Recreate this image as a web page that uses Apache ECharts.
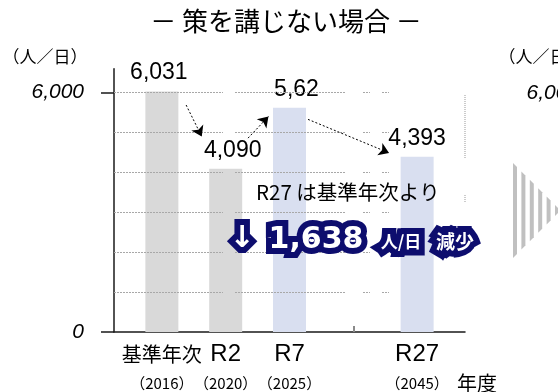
<!DOCTYPE html>
<html>
<head>
<meta charset="utf-8">
<script src="https://cdn.jsdelivr.net/npm/echarts@6/dist/echarts.min.js"></script>
<style>
  html, body { margin: 0; padding: 0; background: #fff; }
  #chart { width: 558px; height: 392px; }
</style>
</head>
<body>
<div id="chart"></div>
<script>
// Daily visitors (人/日) by fiscal year, without countermeasures
const categories = ['基準年次', 'R2', 'R7', '', 'R27'];
const fiscalYears = ['2016', '2020', '2025', '', '2045'];
const population = [6031, 4090, 5620, null, 4393];
const valueLabels = ['6,031', '4,090', '5,62', '', '4,393'];
const yLabelValues = [0, 6000];
const yMax = 6600;
const gridStep = 1000;
const reductionValue = '1,638';

const LATIN = "'Liberation Sans', 'Noto Sans CJK JP', sans-serif";
const JP = "'Noto Sans CJK JP', sans-serif";
const GRAY = '#d9d9d9';
const BLUE = '#d9dff0';
const NAVY = '#0d0d6e';

// plot area
const PLOT = { left: 114, right: 93, top: 68.7, bottom: 59.3 };
// pieces of the dotted guide lines
const GUIDE_SEGMENTS = [[114, 223], [235, 346], [363, 370], [382, 389]];
// small nudges of value labels
const LABEL_NUDGE = [[-3, 0], [7, 0], [7, 0], [0, 0], [0, 0]];

const chart = echarts.init(document.getElementById('chart'));

const isLatin = s => /^[A-Za-z0-9]+$/.test(s);
const labelled = categories.map((c, i) => i).filter(i => categories[i] !== '');

const grids = [Object.assign({}, PLOT)];
const xAxes = [{
  type: 'value', gridIndex: 0, min: -0.75, max: 4.75, position: 'bottom',
  axisLine: { show: true, onZero: false, lineStyle: { color: '#1a1a1a', width: 1.5 } },
  axisTick: {
    show: true, inside: true, length: 6, customValues: [0, 1, 2, 3, 4],
    lineStyle: { color: '#8a8a8a', width: 2 }
  },
  splitLine: { show: false },
  axisLabel: {
    show: true, margin: 12, hideOverlap: false,
    customValues: labelled,
    formatter: v => `{${isLatin(categories[v]) ? 'en' : 'jp'}|${categories[v]}}`,
    rich: {
      jp: { fontSize: 20, lineHeight: 20, color: '#000', fontFamily: JP },
      en: { fontSize: 24, lineHeight: 20, color: '#000', fontFamily: LATIN }
    }
  }
}, {
  // fiscal year line under the category names
  type: 'value', gridIndex: 0, min: -0.75, max: 4.75, position: 'bottom', offset: 0,
  axisLine: { show: false, onZero: false }, axisTick: { show: false }, splitLine: { show: false },
  axisLabel: {
    show: true, margin: 42, hideOverlap: false,
    customValues: labelled,
    formatter: v => `（${fiscalYears[v]}）`,
    fontSize: 15, lineHeight: 18, color: '#000', fontFamily: JP
  }
}];
const yAxes = [{
  type: 'value', gridIndex: 0, min: 0, max: yMax,
  axisLine: { show: true, onZero: false, lineStyle: { color: '#1a1a1a', width: 1.5 } },
  axisTick: {
    show: true, length: 13, customValues: yLabelValues,
    lineStyle: { color: '#1a1a1a', width: 1.5 }
  },
  splitLine: { show: false },
  axisLabel: {
    show: true, margin: 30, customValues: yLabelValues,
    formatter: v => v.toLocaleString('en-US'),
    fontSize: 21, fontStyle: 'italic', color: '#000', fontFamily: LATIN
  }
}];

GUIDE_SEGMENTS.forEach(([a, b]) => {
  const gi = grids.length;
  grids.push({ left: a, width: b - a, top: PLOT.top, bottom: PLOT.bottom });
  xAxes.push({ type: 'value', gridIndex: gi, min: 0, max: 1, show: false });
  yAxes.push({
    type: 'value', gridIndex: gi, min: 0, max: yMax, interval: gridStep, z: 5,
    axisLine: { show: false }, axisTick: { show: false }, axisLabel: { show: false },
    splitLine: {
      show: true, showMinLine: false, showMaxLine: false,
      lineStyle: { color: '#a8a8a8', width: 1, type: [2, 1] }
    }
  });
});

const barData = [];
population.forEach((v, i) => {
  if (v == null) return;
  barData.push({
    value: [i, v],
    itemStyle: { color: i < 2 ? GRAY : BLUE },
    label: { offset: LABEL_NUDGE[i] }
  });
});

// dotted trend arrows between the labelled values (data space)
const trendArrows = [
  [[0.38, 5690], [0.625, 4900]],
  [[1.35, 4860], [1.67, 5400]],
  [[2.29, 5330], [3.56, 4490]]
];

const text = (x, y, str, o) => ({
  type: 'text', x, y, silent: true, z: 20,
  style: Object.assign({
    text: str, fill: '#000', align: 'left', verticalAlign: 'middle',
    fontFamily: JP, fontSize: 16
  }, o)
});

const DEJAVU_BOLD = { fontFamily: "'DejaVu Sans', sans-serif", fontWeight: 'bold' };
const badgeParts = [
  { x: 242, y: 239, str: '↓', font: Object.assign({ fontSize: 30 }, DEJAVU_BOLD) },
  { x: 316, y: 240, str: reductionValue, font: Object.assign({ fontSize: 30 }, DEJAVU_BOLD) },
  { x: 401, y: 242, str: '人/日', font: { fontFamily: JP, fontSize: 17, fontWeight: 'bold' } },
  { x: 455, y: 242, str: '減少', font: { fontFamily: JP, fontSize: 19, fontWeight: 'bold' } }
];
const badge = [];
badgeParts.forEach(p => {
  badge.push({
    type: 'text', x: p.x, y: p.y, z: 30, silent: true,
    style: Object.assign({
      text: p.str, fill: NAVY, stroke: NAVY, lineWidth: 12, lineJoin: 'round',
      shadowBlur: 12, shadowColor: NAVY, align: 'center', verticalAlign: 'middle'
    }, p.font)
  });
});
badgeParts.forEach(p => {
  badge.push({
    type: 'text', x: p.x, y: p.y, z: 31, silent: true,
    style: Object.assign({ text: p.str, fill: '#fff', align: 'center', verticalAlign: 'middle' }, p.font)
  });
});

// striped arrow pointing to the next panel
const stripes = [];
for (let i = 0; i < 6; i++) {
  const x0 = 513 + 8.4 * i, x1 = x0 + 4;
  const h = x => Math.max(0, 47.5 - (x - 513));
  stripes.push({
    type: 'polygon', silent: true, z: 10,
    shape: { points: [[x0, 210.5 - h(x0)], [x1, 210.5 - h(x1)], [x1, 210.5 + h(x1)], [x0, 210.5 + h(x0)]] },
    style: { fill: '#c0c0c0' }
  });
}

const option = {
  animation: false,
  backgroundColor: '#fff',
  grid: grids,
  xAxis: xAxes,
  yAxis: yAxes,
  series: [{
    type: 'bar', xAxisIndex: 0, yAxisIndex: 0, barWidth: 33, z: 2,
    data: barData,
    label: {
      show: true, position: 'top', distance: 7,
      fontSize: 23, color: '#000', fontFamily: LATIN,
      formatter: p => valueLabels[p.value[0]]
    },
    markLine: {
      silent: true, z: 8,
      symbol: ['none', 'arrow'], symbolSize: 10,
      label: { show: false },
      lineStyle: { color: '#000', width: 1, type: [2, 2] },
      data: trendArrows.map(([s, e]) => [{ coord: s }, { coord: e }])
    }
  }],
  graphic: [
    text(286, 21, '－ 策を講じない場合 －', { fontSize: 26, align: 'center' }),
    text(45, 57, '（人／日）', { fontSize: 17, align: 'center' }),
    text(256, 192, 'R27 は基準年次より', { fontSize: 20.5 }),
    text(457, 383, '年度', { fontSize: 20 }),
    // edge of the neighbouring panel
    text(541, 57, '（人／日）', { fontSize: 17, align: 'center' }),
    text(579, 92.7, '6,000', { fontSize: 21, fontStyle: 'italic', fontFamily: LATIN, align: 'right' }),
    { type: 'line', silent: true, shape: { x1: 465, y1: 95, x2: 465, y2: 158 }, style: { stroke: '#999', lineWidth: 1, lineDash: [1, 1] } },
    { type: 'line', silent: true, shape: { x1: 465, y1: 195, x2: 465, y2: 203 }, style: { stroke: '#999', lineWidth: 1, lineDash: [1, 1] } }
  ].concat(stripes, badge)
};

chart.setOption(option);
</script>
</body>
</html>
